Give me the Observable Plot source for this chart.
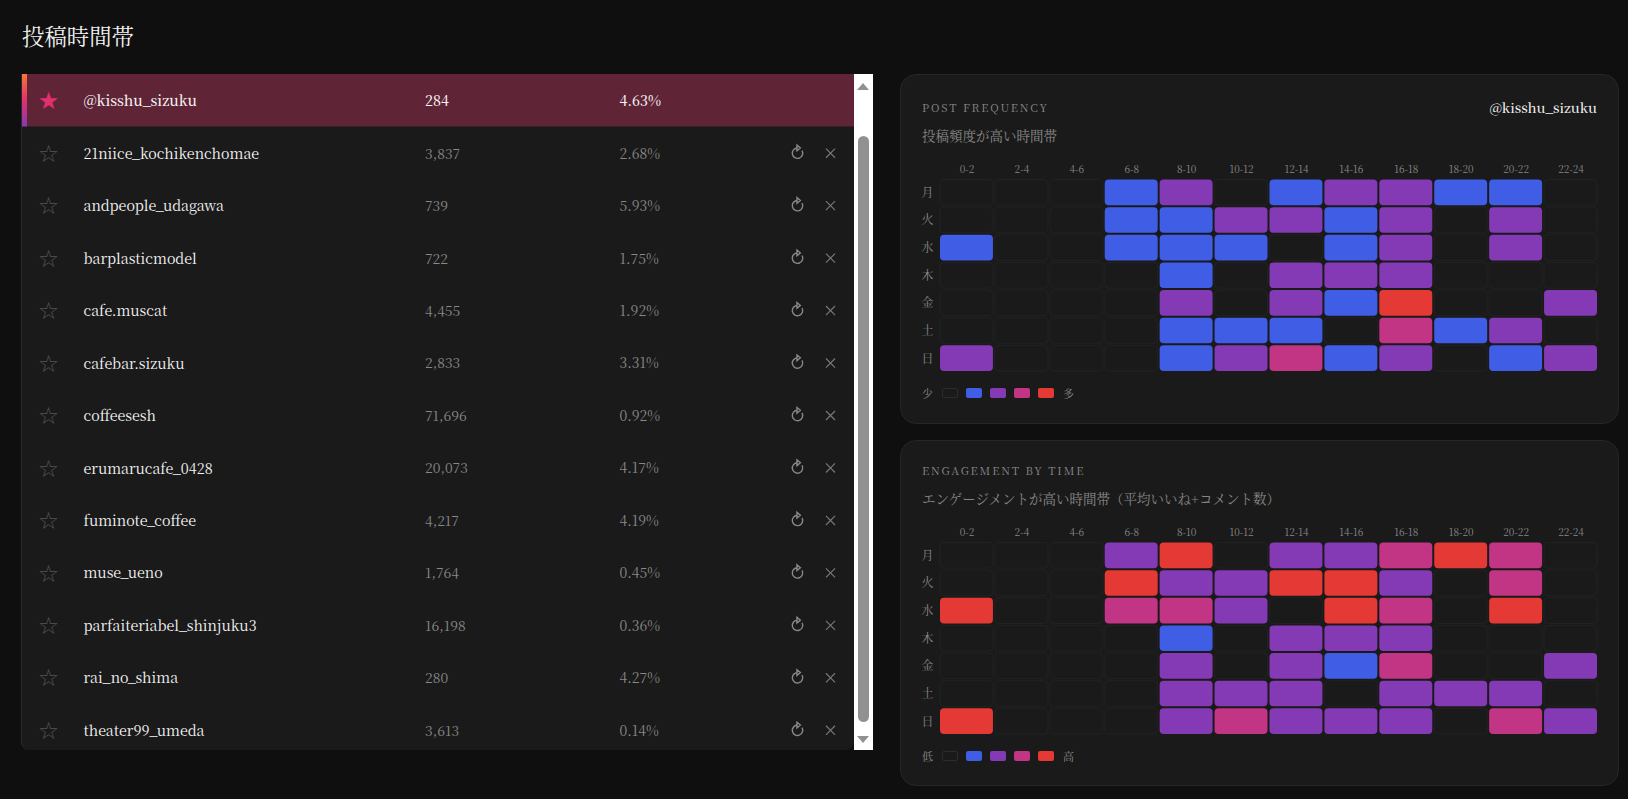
<!DOCTYPE html>
<html lang="ja"><head><meta charset="utf-8">
<script src="https://cdn.jsdelivr.net/npm/d3@7"></script>
<script src="https://cdn.jsdelivr.net/npm/@observablehq/plot@0.6"></script>
<style>
:root{--serif:"Noto Serif CJK JP","Liberation Serif","Noto Sans CJK JP",serif}
html,body{margin:0;padding:0;background:#0f0f0f;width:1628px;height:799px;overflow:hidden;font-family:var(--serif)}
.abs{position:absolute}
h1{position:absolute;left:22px;top:18px;margin:0;font-size:22.4px;font-weight:400;color:#f2f2f2;line-height:34px}
.list{position:absolute;left:21px;top:74px;width:832px;height:676px;background:#1a1a1a;border-left:1px solid #2a2a2a;border-radius:0 0 8px 8px;overflow:hidden}
.list svg{display:block}
.sb{position:absolute;left:854px;top:74px;width:19px;height:676px;background:#fff}
.thumb{position:absolute;left:4px;top:62px;width:11px;height:586px;background:#919191;border-radius:6px}
.up,.dn{position:absolute;left:3px;width:0;height:0;border-left:6.5px solid transparent;border-right:6.5px solid transparent}
.up{top:9px;border-bottom:7px solid #919191}
.dn{bottom:7px;border-top:7px solid #919191}
.card{position:absolute;left:900px;width:717px;background:#1a1a1a;border:1px solid #262626;border-radius:16px}
.eyebrow{position:absolute;left:922px;font-size:11px;letter-spacing:1.85px;color:#888;line-height:14px}
.ctitle{position:absolute;left:922px;font-size:13.5px;color:#888;line-height:18px;white-space:nowrap}
.handle{position:absolute;right:31px;font-size:13.5px;font-weight:500;color:#f0f0f0;line-height:16px}
.legend{position:absolute;left:922px;display:flex;align-items:center;font-size:11px;color:#888;height:14px}
.legend i{display:block;width:16px;height:10px;border-radius:2px;margin-right:8px}
.legend i.z{width:14px;height:8px;background:#1a1a1a;border:1px solid #2c2c2c;margin-left:1px;margin-right:8px}
.legend span:first-child{width:19px}
.legend span:last-child{margin-left:1px}
</style></head><body>
<h1>投稿時間帯</h1>
<div class="list" id="list"></div>
<div class="sb"><div class="up"></div><div class="thumb"></div><div class="dn"></div></div>
<div class="card" style="top:74px;height:348px"></div>
<div class="card" style="top:440px;height:344px"></div>
<div class="eyebrow" style="top:100px">POST FREQUENCY</div>
<div class="handle" style="top:99px">@kisshu_sizuku</div>
<div class="ctitle" style="top:126px">投稿頻度が高い時間帯</div>
<div class="abs" id="h1" style="left:918px;top:160px"></div>
<div class="legend" id="l1" style="top:386px"></div>
<div class="eyebrow" style="top:463px">ENGAGEMENT BY TIME</div>
<div class="ctitle" style="top:489px">エンゲージメントが高い時間帯（平均いいね+コメント数）</div>
<div class="abs" id="h2" style="left:918px;top:523px"></div>
<div class="legend" id="l2" style="top:749px"></div>
<script>
const FONT = '"Noto Serif CJK JP","Liberation Serif","Noto Sans CJK JP",serif';
const selected = "@kisshu_sizuku";
const accounts = ["@kisshu_sizuku","21niice_kochikenchomae","andpeople_udagawa","barplasticmodel","cafe.muscat","cafebar.sizuku","coffeesesh","erumarucafe_0428","fuminote_coffee","muse_ueno","parfaiteriabel_shinjuku3","rai_no_shima","theater99_umeda"];
const posts = ["284","3,837","739","722","4,455","2,833","71,696","20,073","4,217","1,764","16,198","280","3,613"];
const rates = ["4.63%","2.68%","5.93%","1.75%","1.92%","3.31%","0.92%","4.17%","4.19%","0.45%","0.36%","4.27%","0.14%"];
const hours = ["0-2","2-4","4-6","6-8","8-10","10-12","12-14","14-16","16-18","18-20","20-22","22-24"];
const days = ["月","火","水","木","金","土","日"];
const freqLevels = [
 [0,0,0,1,2,0,1,2,2,1,1,0],
 [0,0,0,1,1,2,2,1,2,0,2,0],
 [1,0,0,1,1,1,0,1,2,0,2,0],
 [0,0,0,0,1,0,2,2,2,0,0,0],
 [0,0,0,0,2,0,2,1,4,0,0,2],
 [0,0,0,0,1,1,1,0,3,1,2,0],
 [2,0,0,0,1,2,3,1,2,0,1,2]];
const engLevels = [
 [0,0,0,2,4,0,2,2,3,4,3,0],
 [0,0,0,4,2,2,4,4,2,0,3,0],
 [4,0,0,3,3,2,0,4,3,0,4,0],
 [0,0,0,0,1,0,2,2,2,0,0,0],
 [0,0,0,0,2,0,2,1,3,0,0,2],
 [0,0,0,0,2,2,2,0,2,2,2,0],
 [4,0,0,0,2,3,2,2,2,0,3,2]];
const levelColors = ["#1a1a1a","#405de6","#833ab4","#c13584","#e53935"];

function heatmap(levels){
  const data = levels.flatMap((r,i)=>r.map((v,j)=>({day:days[i],hour:hours[j],v})));
  return Plot.plot({
    width:679,height:211,marginLeft:22,marginRight:0,marginTop:19.5,marginBottom:0,
    style:{background:"transparent",fontFamily:FONT,overflow:"visible"},
    x:{domain:hours,label:null,paddingInner:0.036,paddingOuter:0,round:false},
    y:{domain:days,label:null,paddingInner:0.072,paddingOuter:0,round:false},
    color:{type:"ordinal",domain:[0,1,2,3,4],range:levelColors},
    marks:[
      Plot.axisX({anchor:"top",tickSize:0,tickPadding:7,fontSize:10,color:"#888",label:null}),
      Plot.axisY({anchor:"left",tickSize:0,tickPadding:7,fontSize:12,color:"#888",label:null}),
      Plot.cell(data,{x:"hour",y:"day",fill:"v",stroke:d=>d.v?"none":"#222",rx:4})
    ]
  });
}
document.getElementById("h1").append(heatmap(freqLevels));
document.getElementById("h2").append(heatmap(engLevels));
function legend(id,lo,hi){
  document.getElementById(id).innerHTML = `<span>${lo}</span>`+levelColors.map((c,i)=>`<i class="${i?'':'z'}" style="${i?`background:${c}`:''}"></i>`).join("")+`<span>${hi}</span>`;
}
legend("l1","少","多");legend("l2","低","高");

const rows = accounts.map((name,i)=>({name,posts:posts[i],rate:rates[i],sel:name===selected}));
const others = rows.filter(d=>!d.sel), sel = rows.filter(d=>d.sel);
const defs = ()=>{const g=document.createElementNS("http://www.w3.org/2000/svg","g");
  g.innerHTML='<defs><linearGradient id="accent" x1="0" y1="0" x2="0" y2="1"><stop offset="0" stop-color="#f77737"/><stop offset="0.5" stop-color="#e1306c"/><stop offset="1" stop-color="#833ab4"/></linearGradient></defs>';return g;};
// open circular arrow: arc from the top, round the left side and bottom, to the upper right
const refreshSymbol = {draw(ctx,size){
  const r=Math.sqrt(size/Math.PI);
  ctx.moveTo(0,-r);
  ctx.arc(0,0,r,-Math.PI/2,-Math.PI/6,true);
  ctx.moveTo(-r*0.1,-r*1.55);ctx.lineTo(r*0.55,-r);ctx.lineTo(-r*0.1,-r*0.45);ctx.closePath();
}};
const W=832,H=682;
const t=(data,o)=>Plot.text(data,{y:"name",frameAnchor:"left",textAnchor:"start",lineAnchor:"middle",dy:1,...o});
document.getElementById("list").append(Plot.plot({
  width:W,height:H,margin:0,
  style:{background:"transparent",fontFamily:FONT},
  y:{domain:accounts,axis:null,paddingInner:0,paddingOuter:0,round:false},
  marks:[
    defs,
    Plot.cell(sel,{y:"name",fill:"#602437"}),
    Plot.cell(sel,{y:"name",fill:"url(#accent)",insetRight:W-5}),
    t(sel,{text:()=>"★",dx:26,textAnchor:"middle",fontSize:24,fill:"#e1306c",fontFamily:"DejaVu Sans"}),
    t(others,{text:()=>"☆",dx:26,textAnchor:"middle",fontSize:24,fill:"#555",fontFamily:"DejaVu Sans"}),
    t(others,{text:"name",dx:61,fontSize:14.25,fill:"#f4f4f4"}),
    t(sel,{text:"name",dx:61,fontSize:14.25,fill:"#f4f4f4",fontWeight:500}),
    t(sel,{text:"posts",dx:402.5,fontSize:14,fill:"#f4f4f4",fontWeight:500}),
    t(others,{text:"posts",dx:402.5,fontSize:13.8,fill:"#888"}),
    t(sel,{text:"rate",dx:597,fontSize:14,fill:"#f4f4f4",fontWeight:500}),
    t(others,{text:"rate",dx:597,fontSize:13.9,fill:"#888"}),
    Plot.dot(others,{y:"name",frameAnchor:"left",dx:775,dy:0,r:5.2,symbol:refreshSymbol,stroke:"#888",strokeWidth:1.4,fill:"none"}),
    Plot.dot(others,{y:"name",frameAnchor:"left",dx:808,r:4.2,symbol:"times",stroke:"#777",strokeWidth:1.2,fill:"none"})
  ]
}));
</script></body></html>
